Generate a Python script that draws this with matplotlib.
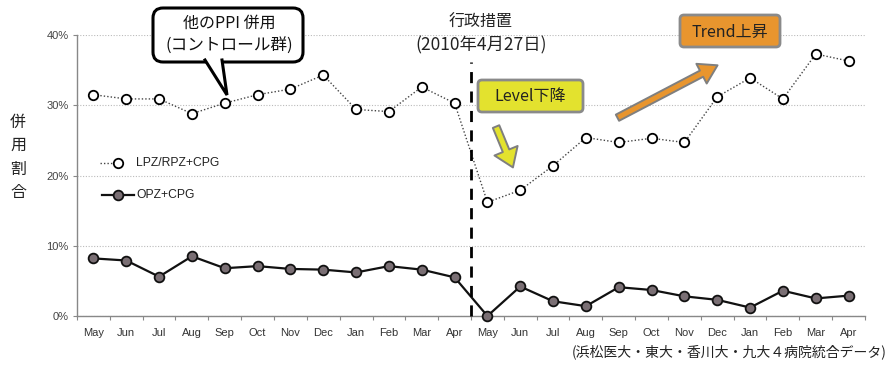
"""Recreate the LPZ/RPZ+CPG vs OPZ+CPG co-prescription chart."""

import matplotlib

matplotlib.use("Agg")
import matplotlib.pyplot as plt
from matplotlib.lines import Line2D
from matplotlib.patches import FancyArrowPatch, FancyBboxPatch, Polygon
from matplotlib.ticker import FuncFormatter, MultipleLocator
from matplotlib.transforms import IdentityTransform

MONTHS = ["May", "Jun", "Jul", "Aug", "Sep", "Oct", "Nov", "Dec",
          "Jan", "Feb", "Mar", "Apr"] * 2
LPZ_RPZ_CPG = [31.5, 30.9, 30.9, 28.8, 30.3, 31.5, 32.3, 34.3, 29.4, 29.1, 32.6, 30.3,
               16.2, 17.9, 21.4, 25.4, 24.7, 25.3, 24.7, 31.2, 33.9, 30.9, 37.3, 36.3]
OPZ_CPG = [8.2, 7.9, 5.6, 8.5, 6.8, 7.1, 6.7, 6.6, 6.2, 7.1, 6.6, 5.5,
           0.0, 4.2, 2.1, 1.4, 4.1, 3.7, 2.8, 2.3, 1.2, 3.6, 2.5, 2.9]
INTERVENTION_X = 11.5

W, H = 892, 365
JP = ["Noto Sans CJK JP", "DejaVu Sans"]
LAT = ["Liberation Sans", "DejaVu Sans"]


def px(x, y):
    # pixel coords measured from the top-left corner -> display coords
    return (x, H - y)


def main() -> None:
    plt.rcParams["font.family"] = LAT
    fig = plt.figure(figsize=(W / 100, H / 100), dpi=100)
    fig.patch.set_facecolor("white")
    ax = fig.add_axes([77 / W, 1 - 316 / H, (865 - 77) / W, (316 - 35) / H])

    x = list(range(len(MONTHS)))
    ax.plot(x, LPZ_RPZ_CPG, linestyle=(0, (1, 1.5)), color="#444444", linewidth=1.0,
            marker="o", markersize=6.8, markerfacecolor="white", markeredgecolor="black",
            markeredgewidth=1.3, zorder=4, clip_on=False)
    ax.plot(x, OPZ_CPG, linestyle="-", color="#111111", linewidth=1.6,
            marker="o", markersize=7, markerfacecolor="#7a6f74", markeredgecolor="#111111",
            markeredgewidth=1.3, zorder=4, clip_on=False)

    ax.axvline(INTERVENTION_X, ymin=0, ymax=(316 - 62) / (316 - 35), color="black",
               linewidth=2.0, linestyle=(0, (4, 3)), zorder=5, clip_on=False)

    ax.set_xlim(-0.5, len(MONTHS) - 0.5)
    ax.set_ylim(0, 40)
    ax.yaxis.set_major_locator(MultipleLocator(10))
    ax.yaxis.set_major_formatter(FuncFormatter(lambda v, _: f"{v:.0f}%"))
    ax.set_xticks(x)
    ax.set_xticklabels(MONTHS)
    ax.set_xticks([i - 0.5 for i in range(len(MONTHS) + 1)], minor=True)
    ax.tick_params(axis="x", which="major", length=0, pad=9, labelsize=8, labelcolor="#333333")
    ax.tick_params(axis="x", which="minor", length=3, width=0.8, color="#888888", direction="out")
    ax.tick_params(axis="y", length=3, width=0.8, color="#888888", pad=3,
                   labelsize=8, labelcolor="#444444")
    ax.grid(axis="y", linestyle=(0, (1, 1.5)), color="#bbbbbb", linewidth=0.8)
    ax.set_axisbelow(True)
    for side in ("top", "right"):
        ax.spines[side].set_visible(False)
    for side in ("left", "bottom"):
        ax.spines[side].set_color("#888888")
        ax.spines[side].set_linewidth(1.0)

    # vertical y label
    for i, ch in enumerate("併用割合"):
        fig.text(*px(18, 122 + i * 23.5), ch, transform=IdentityTransform(), family=JP,
                 fontsize=11.5, ha="center", va="center", color="#222222")

    # legend drawn by hand
    fig.add_artist(Line2D([100, 118], [H - 163] * 2, transform=IdentityTransform(),
                          linestyle=(0, (1, 1.5)), color="#444444", linewidth=1.0))
    fig.add_artist(Line2D([118], [H - 163], transform=IdentityTransform(), marker="o",
                          markersize=6.8, markerfacecolor="white", markeredgecolor="black",
                          markeredgewidth=1.3))
    fig.text(*px(136, 163), "LPZ/RPZ+CPG", transform=IdentityTransform(), fontsize=8.7,
             va="center", color="#222222")
    fig.add_artist(Line2D([102, 134], [H - 195] * 2, transform=IdentityTransform(),
                          color="#111111", linewidth=1.6))
    fig.add_artist(Line2D([118], [H - 195], transform=IdentityTransform(), marker="o",
                          markersize=7, markerfacecolor="#7a6f74", markeredgecolor="#111111",
                          markeredgewidth=1.3))
    fig.text(*px(136, 195), "OPZ+CPG", transform=IdentityTransform(), fontsize=8.7,
             va="center", color="#222222")

    # intervention label
    fig.text(*px(481, 22), "行政措置", transform=IdentityTransform(), family=JP,
             fontsize=11.5, ha="center", va="center", color="#222222")
    fig.text(*px(481, 45), "(2010年4月27日)", transform=IdentityTransform(), family=JP,
             fontsize=12.5, ha="center", va="center", color="#222222")

    # speech-bubble callout
    bx0, by0, bx1, by1 = 153, 8, 303, 62
    box = FancyBboxPatch(px(bx0, by1), bx1 - bx0, by1 - by0,
                         boxstyle="round,pad=0,rounding_size=10", transform=IdentityTransform(),
                         facecolor="white", edgecolor="black", linewidth=2.2, zorder=10)
    fig.add_artist(box)
    tail = [px(205, by1 - 2), px(227, 95), px(222, by1 - 2)]
    fig.add_artist(Polygon(tail, closed=True, transform=IdentityTransform(),
                           facecolor="white", edgecolor="none", zorder=11))
    fig.add_artist(Line2D([t[0] for t in tail], [t[1] for t in tail],
                          transform=IdentityTransform(), color="black", linewidth=2.2,
                          solid_joinstyle="miter", zorder=12))
    fig.text(*px(229, 23), "他のPPI 併用", transform=IdentityTransform(), family=JP,
             fontsize=11.5, ha="center", va="center", color="#111111", zorder=13)
    fig.text(*px(229, 46), "(コントロール群)", transform=IdentityTransform(), family=JP,
             fontsize=12, ha="center", va="center", color="#111111", zorder=13)

    # Level / Trend boxes
    for (x0, y0, x1, y1), label, color in (
        ((478, 80, 583, 112), "Level下降", "#e3e22e"),
        ((680, 15, 780, 47), "Trend上昇", "#e8952e"),
    ):
        fig.add_artist(FancyBboxPatch(px(x0, y1), x1 - x0, y1 - y0,
                                      boxstyle="round,pad=0,rounding_size=4",
                                      transform=IdentityTransform(), facecolor=color,
                                      edgecolor="#8a8a8a", linewidth=2.0, zorder=10))
        fig.text(*px((x0 + x1) / 2, (y0 + y1) / 2 + 1), label, transform=IdentityTransform(),
                 family=JP, fontsize=11.5, ha="center", va="center", color="#222222", zorder=11)

    for start, end, color, head in (
        ((495, 124), (514, 170), "#e3e22e", 18),
        ((615, 119), (720, 64), "#e8952e", 16),
    ):
        fig.add_artist(FancyArrowPatch(px(*start), px(*end), transform=IdentityTransform(),
                                       arrowstyle=f"simple,head_width={head},head_length=13,tail_width=5",
                                       mutation_scale=1, facecolor=color, edgecolor="#7f7f7f",
                                       linewidth=1.4, zorder=10))

    fig.text(*px(887, 352), "(浜松医大・東大・香川大・九大４病院統合データ)",
             transform=IdentityTransform(), family=JP, fontsize=10, ha="right",
             va="center", color="#222222")

    fig.savefig("out.png", dpi=100, facecolor="white")
    plt.close(fig)


if __name__ == "__main__":
    main()
